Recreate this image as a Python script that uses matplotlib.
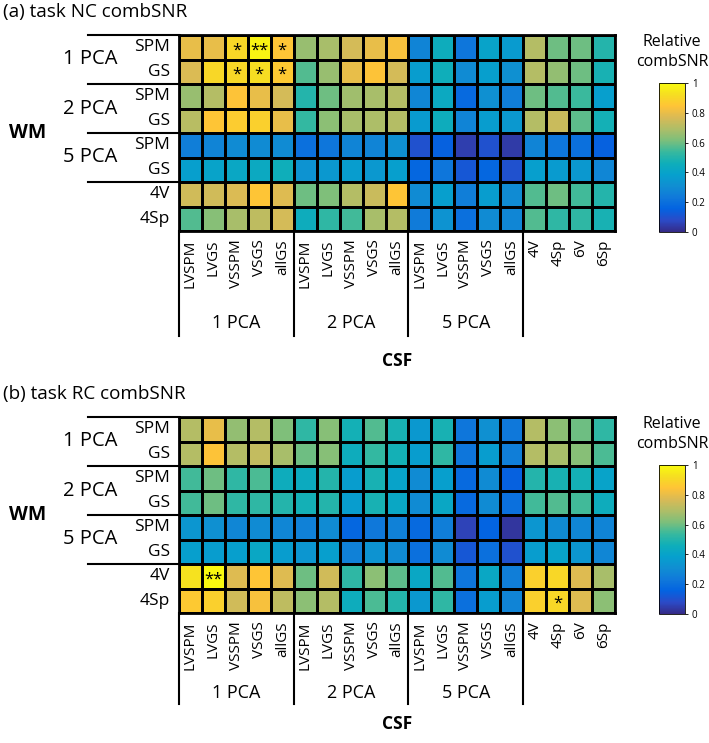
import numpy as np
import matplotlib.pyplot as plt
from matplotlib.colors import LinearSegmentedColormap

plt.rcParams['font.family'] = ['Open Sans', 'DejaVu Sans']

## labels
csf_labels = ['LVSPM', 'LVGS', 'VSSPM', 'VSGS', 'allGS'] * 3 + ['4V', '4Sp', '6V', '6Sp']
csf_groups = ['1 PCA', '2 PCA', '5 PCA']
wm_groups  = ['1 PCA', '2 PCA', '5 PCA']
wm_labels  = ['SPM', 'GS', 'SPM', 'GS', 'SPM', 'GS', '4V', '4Sp']

## relative combSNR, rows = WM, cols = CSF
nc_combsnr = np.array([
    [0.80, 0.80, 0.90, 0.98, 0.85, 0.66, 0.68, 0.76, 0.80, 0.83, 0.27, 0.45, 0.22, 0.40, 0.36, 0.70, 0.60, 0.60, 0.50],
    [0.77, 0.90, 0.90, 0.92, 0.86, 0.57, 0.66, 0.80, 0.84, 0.76, 0.37, 0.46, 0.30, 0.38, 0.32, 0.70, 0.65, 0.60, 0.48],
    [0.66, 0.70, 0.84, 0.80, 0.76, 0.50, 0.60, 0.67, 0.68, 0.70, 0.28, 0.43, 0.18, 0.32, 0.25, 0.60, 0.57, 0.54, 0.38],
    [0.71, 0.85, 0.87, 0.88, 0.80, 0.53, 0.64, 0.68, 0.69, 0.70, 0.36, 0.45, 0.27, 0.37, 0.35, 0.70, 0.74, 0.58, 0.47],
    [0.25, 0.27, 0.30, 0.30, 0.30, 0.20, 0.22, 0.27, 0.27, 0.32, 0.10, 0.15, 0.05, 0.10, 0.04, 0.27, 0.22, 0.20, 0.15],
    [0.38, 0.40, 0.42, 0.43, 0.46, 0.33, 0.35, 0.37, 0.35, 0.38, 0.17, 0.22, 0.12, 0.17, 0.10, 0.38, 0.36, 0.35, 0.28],
    [0.75, 0.75, 0.77, 0.85, 0.78, 0.60, 0.62, 0.70, 0.74, 0.85, 0.30, 0.38, 0.25, 0.37, 0.30, 0.57, 0.60, 0.55, 0.50],
    [0.57, 0.63, 0.68, 0.72, 0.76, 0.45, 0.52, 0.55, 0.68, 0.70, 0.24, 0.33, 0.20, 0.30, 0.28, 0.57, 0.52, 0.52, 0.48],
])

rc_combsnr = np.array([
    [0.70, 0.80, 0.65, 0.70, 0.62, 0.52, 0.63, 0.47, 0.57, 0.48, 0.35, 0.48, 0.22, 0.32, 0.23, 0.70, 0.64, 0.60, 0.52],
    [0.70, 0.84, 0.70, 0.73, 0.68, 0.60, 0.63, 0.45, 0.53, 0.47, 0.37, 0.52, 0.22, 0.37, 0.25, 0.70, 0.68, 0.63, 0.56],
    [0.55, 0.60, 0.52, 0.56, 0.45, 0.44, 0.50, 0.37, 0.48, 0.40, 0.30, 0.38, 0.18, 0.30, 0.15, 0.50, 0.48, 0.47, 0.40],
    [0.55, 0.60, 0.52, 0.52, 0.50, 0.47, 0.50, 0.37, 0.48, 0.42, 0.30, 0.42, 0.18, 0.30, 0.20, 0.55, 0.57, 0.55, 0.45],
    [0.34, 0.32, 0.28, 0.30, 0.28, 0.26, 0.30, 0.17, 0.23, 0.26, 0.18, 0.25, 0.06, 0.16, 0.03, 0.34, 0.30, 0.28, 0.27],
    [0.38, 0.37, 0.38, 0.42, 0.37, 0.34, 0.38, 0.26, 0.33, 0.30, 0.20, 0.30, 0.12, 0.20, 0.10, 0.37, 0.40, 0.34, 0.28],
    [0.93, 0.99, 0.78, 0.85, 0.78, 0.60, 0.75, 0.52, 0.64, 0.58, 0.42, 0.57, 0.22, 0.42, 0.25, 0.88, 0.90, 0.78, 0.68],
    [0.86, 0.88, 0.75, 0.83, 0.72, 0.64, 0.70, 0.45, 0.56, 0.50, 0.35, 0.52, 0.20, 0.37, 0.27, 0.88, 0.90, 0.78, 0.64],
])

nc_stars = [(0, 2, '*'), (0, 3, '**'), (0, 4, '*'), (1, 2, '*'), (1, 3, '*'), (1, 4, '*')]
rc_stars = [(6, 1, '**'), (7, 16, '*')]

# parula-like colormap
parula = LinearSegmentedColormap.from_list('parula', [
    (0.2081, 0.1663, 0.5292), (0.1707, 0.2919, 0.7792), (0.0117, 0.3875, 0.8820),
    (0.0629, 0.4737, 0.8554), (0.0641, 0.5570, 0.8240), (0.0239, 0.6287, 0.8038),
    (0.0590, 0.6838, 0.7254), (0.2178, 0.7250, 0.6193), (0.4871, 0.7491, 0.4840),
    (0.6834, 0.7435, 0.4044), (0.8507, 0.7299, 0.3360), (0.9990, 0.7653, 0.2164),
    (0.9626, 0.8705, 0.1309), (0.9763, 0.9831, 0.0538)])

W, H = 709, 743
fig = plt.figure(figsize=(W / 100, H / 100), dpi=100)


def draw_panel(top, title, vals, stars, line_end, grp_y, csf_y):
    fig.text(3 / W, 1 - (top - 23) / H, title, ha='left', va='center', fontsize=13.6)
    ax = fig.add_axes([179 / W, 1 - (top + 196) / H, 436 / W, 196 / H])
    mesh = ax.pcolormesh(vals, cmap=parula, vmin=0, vmax=1, edgecolors='k', linewidth=0.8)
    ax.set_xlim(0, 19)
    ax.set_ylim(8, 0)
    for x in (5, 10, 15):
        ax.axvline(x, color='k', lw=2)
    for y in (2, 4, 6):
        ax.axhline(y, color='k', lw=2)
    for s in ax.spines.values():
        s.set_linewidth(2)

    ax.set_yticks([])
    ax.set_xticks(np.arange(19) + 0.5)
    ax.set_xticklabels(csf_labels, rotation=90, fontsize=11)
    ax.tick_params(axis='x', length=0, pad=6)

    # WM labels on the left
    for r, lab in enumerate(wm_labels):
        ax.text(-0.4, r + 0.5, lab, ha='right', va='center', fontsize=12.5)
    for g, lab in enumerate(wm_groups):
        ax.text(-3.87, 2 * g + 1, lab, ha='center', va='center', fontsize=14.5)
    for y in (0, 2, 4, 6):
        ax.plot([-3.96, 0], [y, y], color='k', lw=1.5, clip_on=False)
    ax.text(-6.6, 4, 'WM', ha='center', va='center', fontsize=14, fontweight='bold')

    # CSF labels below
    for x in (0, 5, 10, 15):
        ax.plot([x, x], [8, line_end], color='k', lw=1.5, clip_on=False)
    for g, lab in enumerate(csf_groups):
        ax.text(5 * g + 2.5, grp_y, lab, ha='center', va='center', fontsize=13)
    ax.text(9.5, csf_y, 'CSF', ha='center', va='center', fontsize=12.5, fontweight='bold')

    for r, c, s in stars:
        ax.text(c + 0.5, r + 0.62, s, ha='center', va='center', fontsize=12)

    cax = fig.add_axes([659 / W, 1 - (top + 197) / H, 26 / W, 149 / H])
    cb = fig.colorbar(mesh, cax=cax, ticks=[0, 0.2, 0.4, 0.6, 0.8, 1])
    cb.ax.set_yticklabels(['0', '0.2', '0.4', '0.6', '0.8', '1'], fontsize=7)
    cb.ax.tick_params(length=2, width=0.6, pad=3)
    cb.outline.set_linewidth(0.6)
    fig.text(672 / W, 1 - (top + 17) / H, 'Relative\ncombSNR', ha='center', va='center',
             fontsize=11.5, linespacing=1.25)


draw_panel(35, '(a) task NC combSNR', nc_combsnr, nc_stars, 12.3, 11.75, 13.3)
draw_panel(417, '(b) task RC combSNR', rc_combsnr, rc_stars, 11.7, 11.25, 12.55)

fig.savefig('out.png', dpi=100)
